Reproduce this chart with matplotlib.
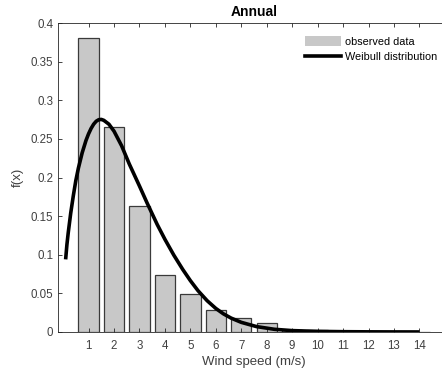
import numpy as np
import matplotlib.pyplot as plt
from matplotlib.ticker import FuncFormatter
from matplotlib.patches import Patch
from matplotlib.lines import Line2D

plt.rcParams['font.family'] = ['Liberation Sans', 'DejaVu Sans']

# observed histogram (wind speed bins, relative frequency)
speed_bins = [1, 2, 3, 4, 5, 6, 7, 8, 9, 10, 11, 12, 13, 14]
observed = [0.381, 0.265, 0.163, 0.074, 0.049, 0.029, 0.018, 0.012,
            0.003, 0.002, 0.001, 0.0007, 0.0005, 0.0003]

# fitted Weibull curve
weib_x = [0.1, 0.15, 0.2, 0.3, 0.4, 0.5, 0.6, 0.75, 0.9, 1.0, 1.1, 1.2,
          1.3, 1.4, 1.5, 1.6, 1.8, 2.0, 2.3, 2.6, 3.0, 3.3, 3.7, 4.0,
          4.35, 4.7, 5.0, 5.3, 5.66, 6.0, 6.3, 6.6, 7.0, 7.6, 8.3, 9.0,
          10.0, 11.0, 12.0, 13.0, 14.0]
weib_y = [0.094, 0.113, 0.128, 0.154, 0.176, 0.196, 0.212, 0.232, 0.248,
          0.2565, 0.2635, 0.2690, 0.2728, 0.2748, 0.2752, 0.2740, 0.2690,
          0.2600, 0.2410, 0.2175, 0.1890, 0.1670, 0.1390, 0.1200, 0.0995,
          0.0810, 0.0665, 0.0535, 0.0405, 0.0305, 0.0235, 0.0180, 0.0125,
          0.0070, 0.0035, 0.0018, 0.0008, 0.0004, 0.0002, 0.0001, 0.00005]

axcol = '#262626'
txtcol = '#404040'

fig = plt.figure(figsize=(4.42, 3.73), dpi=100)
ax = fig.add_axes([58/442, 41/373, 392/442, 309/373])

ax.bar(speed_bins, observed, width=0.8, color='#c8c8c8',
       edgecolor='#3a3a3a', linewidth=0.9)
ax.plot(weib_x, weib_y, color='black', linewidth=2.6,
        solid_capstyle='butt', solid_joinstyle='round')

ax.set_xlim(-0.2, 15.2)
ax.set_ylim(0, 0.4)
ax.set_xticks(speed_bins)
ax.set_yticks(np.arange(0, 0.41, 0.05))
ax.yaxis.set_major_formatter(FuncFormatter(lambda v, p: f'{v:g}'))

ax.tick_params(direction='in', length=3, width=0.6, colors=axcol,
               labelsize=8.3, top=True, right=False, labelcolor=txtcol)
ax.tick_params(axis='x', pad=6)
for s in ['left', 'bottom', 'top']:
    ax.spines[s].set_color(axcol)
    ax.spines[s].set_linewidth(0.6)
ax.spines['right'].set_visible(False)

ax.set_xlabel('Wind speed (m/s)', fontsize=9.5, color=txtcol, labelpad=3)
ax.set_ylabel('f(x)', fontsize=9.5, color=txtcol, labelpad=5)
ax.set_title('Annual', fontsize=10, fontweight='bold', pad=5)

handles = [Patch(facecolor='#c8c8c8', edgecolor='none'),
           Line2D([0], [0], color='black', linewidth=2.6)]
ax.legend(handles, ['observed data', 'Weibull distribution'],
          loc='upper left', bbox_to_anchor=(305/442, 1 - 36/373),
          bbox_transform=fig.transFigure, frameon=False, fontsize=7.8,
          handlelength=3.3, handleheight=1.0, borderpad=0, borderaxespad=0,
          handletextpad=0.35, labelspacing=0.45)

fig.savefig('out.png', dpi=100)
